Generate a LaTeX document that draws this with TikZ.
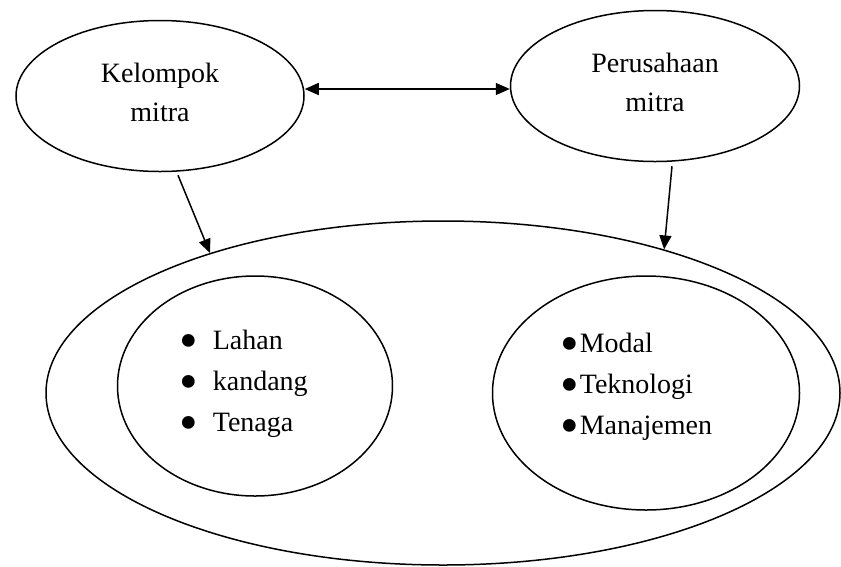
\documentclass[tikz,border=0pt]{standalone}
\usepackage{fontspec}
\setmainfont{Liberation Serif}
\usetikzlibrary{shapes.geometric,arrows.meta}

\newcommand{\blt}{\raisebox{-9pt}[0pt][0pt]{\scalebox{1.9}{\textbullet}}}

\begin{document}
\begin{tikzpicture}[
  x = 1pt, y = -1pt,
  oval/.style={draw, ellipse, line width=1.5pt, inner sep=0pt, align=center},
  list/.style={inner sep=0pt, align=left, anchor=base west, font=\fontsize{28}{41}\selectfont},
  link/.style={line width=1.5pt, -{Triangle[length=14pt,width=12pt]}},
  both/.style={line width=1.5pt, {Triangle[length=14pt,width=12pt]}-{Triangle[length=14pt,width=12pt]}}
]
%general params
\def\tfont{\fontsize{28}{39}\selectfont}

\useasboundingbox (0,0) rectangle (841,566);

%partners
\node[oval, minimum width=288pt, minimum height=151pt, font=\tfont] (kel) at (160,96) {Kelompok\\mitra\\[-31pt]};
\node[oval, minimum width=289pt, minimum height=151pt, font=\tfont] (per) at (655,86) {Perusahaan\\mitra\\[-31pt]};

%joint business
\node[oval, minimum width=794pt, minimum height=344pt] (usaha) at (443,393) {};
\node[oval, minimum width=275pt, minimum height=220pt] (kelin) at (255,386) {};
\node[oval, minimum width=307pt, minimum height=234pt] (perin) at (646,393) {};

%lists (anchored at last line)
\node[list] (kelist) at (179,431)
  {\blt\hspace{15pt}Lahan\\\blt\hspace{15pt}kandang\\\blt\hspace{15pt}Tenaga};
\node[list] (perlist) at (560,434)
  {\blt\hspace{1pt}Modal\\\blt\hspace{1pt}Teknologi\\\blt\hspace{1pt}Manajemen};

%arrows
\coordinate (k1) at ([xshift=18pt, yshift=-3pt]kel.south);
\coordinate (p1) at ([xshift=17pt, yshift=-4pt]per.south);
\draw[both] ([yshift=7pt]kel.east) -- ([yshift=-3pt]per.west);
\draw[link] (k1) -- (usaha.149);
\draw[link] (p1) -- (usaha.33);

\end{tikzpicture}
\end{document}
